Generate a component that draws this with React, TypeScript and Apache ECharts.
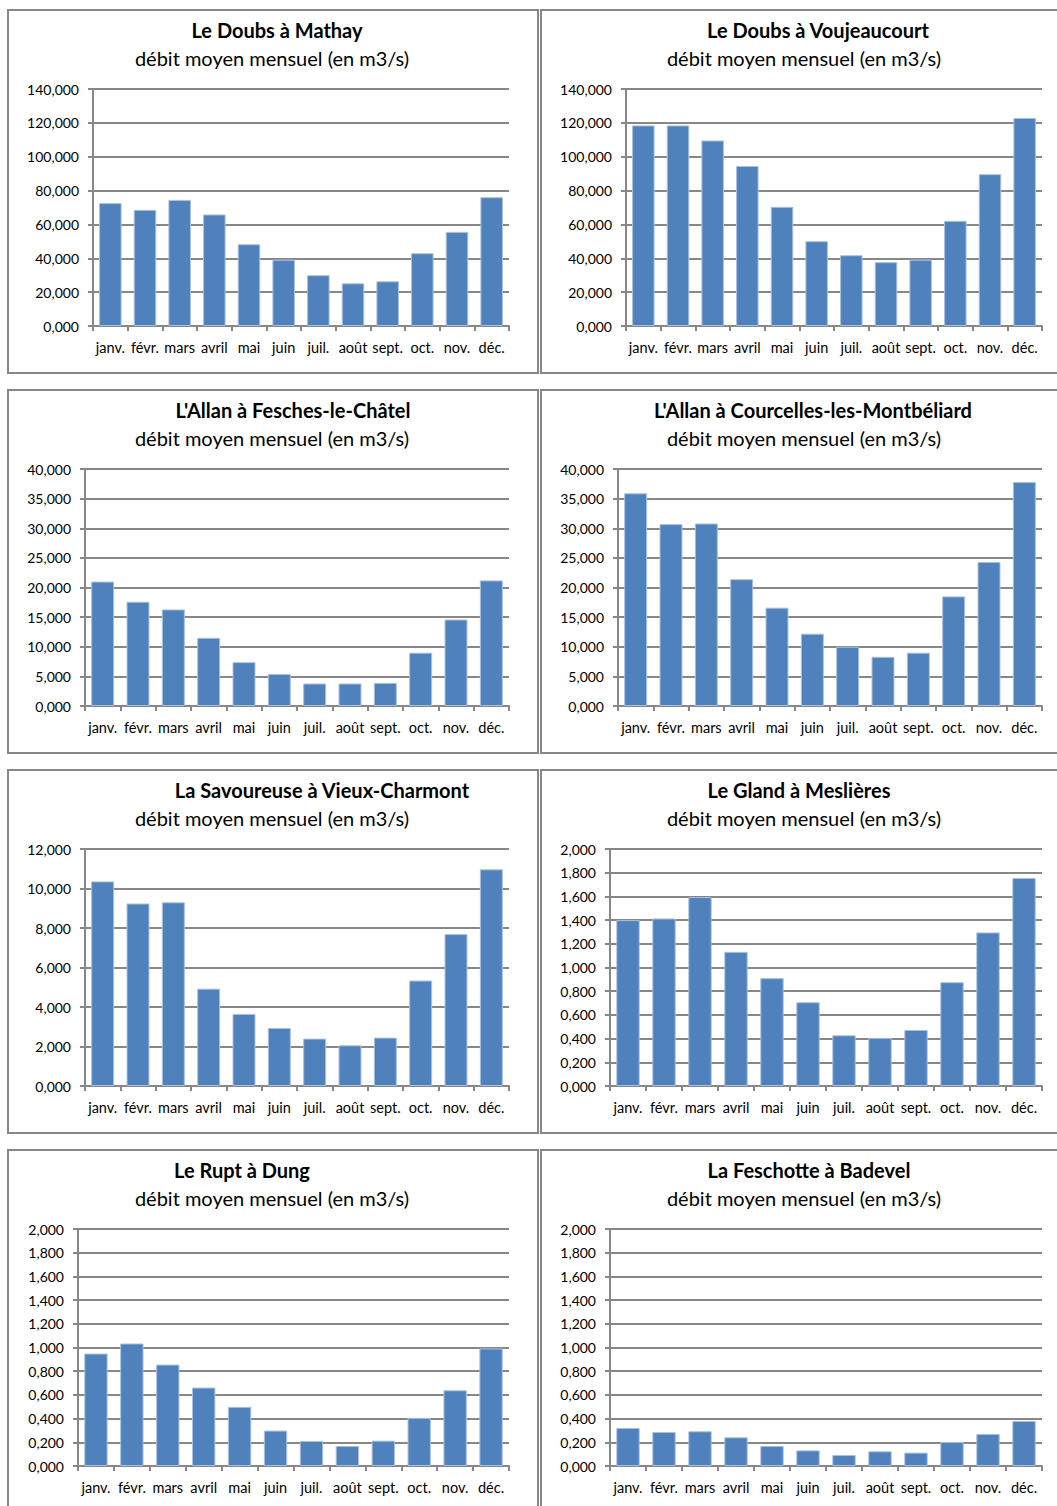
import React, { useEffect, useRef } from "react";
import * as echarts from "echarts";

const months = ["janv.", "févr.", "mars", "avril", "mai", "juin", "juil.", "août", "sept.", "oct.", "nov.", "déc."];

const doubsMathay = [72.6, 68.6, 74.5, 65.9, 48.3, 39.2, 30.0, 25.2, 26.4, 43.0, 55.6, 76.1];
const doubsVoujeaucourt = [118.5, 118.5, 109.6, 94.5, 70.4, 50.1, 41.8, 37.7, 39.2, 62.1, 89.7, 122.9];
const allanFesches = [21.0, 17.6, 16.3, 11.5, 7.4, 5.4, 3.8, 3.8, 3.9, 9.0, 14.6, 21.2];
const allanCourcelles = [35.9, 30.7, 30.8, 21.4, 16.6, 12.2, 10.0, 8.3, 9.0, 18.5, 24.3, 37.8];
const savoureuse = [10.36, 9.24, 9.3, 4.93, 3.65, 2.94, 2.4, 2.06, 2.45, 5.34, 7.69, 10.97];
const glandMeslieres = [1.4, 1.414, 1.594, 1.132, 0.91, 0.707, 0.428, 0.406, 0.473, 0.876, 1.296, 1.755];
const ruptDung = [0.949, 1.034, 0.856, 0.662, 0.499, 0.299, 0.211, 0.169, 0.214, 0.406, 0.639, 0.992];
const feschotte = [0.321, 0.287, 0.293, 0.242, 0.169, 0.132, 0.093, 0.124, 0.113, 0.203, 0.27, 0.38];

const subtitle = "débit moyen mensuel (en m3/s)";

const panels = [
  { title: "Le Doubs à Mathay", data: doubsMathay, max: 140, interval: 20, col: 0, row: 0, axisOff: 85, titleX: 277 },
  { title: "Le Doubs à Voujeaucourt", data: doubsVoujeaucourt, max: 140, interval: 20, col: 1, row: 0, axisOff: 85, titleX: 818 },
  { title: "L'Allan à Fesches-le-Châtel", data: allanFesches, max: 40, interval: 5, col: 0, row: 1, axisOff: 77, titleX: 293 },
  { title: "L'Allan à Courcelles-les-Montbéliard", data: allanCourcelles, max: 40, interval: 5, col: 1, row: 1, axisOff: 77, titleX: 813 },
  { title: "La Savoureuse à Vieux-Charmont", data: savoureuse, max: 12, interval: 2, col: 0, row: 2, axisOff: 77, titleX: 322 },
  { title: "Le Gland à Meslières", data: glandMeslieres, max: 2, interval: 0.2, col: 1, row: 2, axisOff: 69, titleX: 799 },
  { title: "Le Rupt à Dung", data: ruptDung, max: 2, interval: 0.2, col: 0, row: 3, axisOff: 70, titleX: 242 },
  { title: "La Feschotte à Badevel", data: feschotte, max: 2, interval: 0.2, col: 1, row: 3, axisOff: 69, titleX: 809 },
];

const FONT = "Lato, 'Open Sans', sans-serif";
const GRAY = "#878787";

export default function App() {
  const ref = useRef<HTMLDivElement>(null);
  useEffect(() => {
    if (!ref.current) return;
    const chart = echarts.init(ref.current, null, { renderer: "svg" });
    const grids: any[] = [];
    const xAxes: any[] = [];
    const yAxes: any[] = [];
    const series: any[] = [];
    const graphics: any[] = [];
    panels.forEach((p, i) => {
      const boxX = p.col === 0 ? 8 : 541;
      const boxY = 10 + 380 * p.row;
      const axisX = boxX + p.axisOff;
      const rightX = boxX + 501;
      graphics.push({
        type: "rect",
        shape: { x: boxX, y: boxY, width: 530, height: 363 },
        style: { fill: "none", stroke: GRAY, lineWidth: 2 },
        silent: true,
      });
      graphics.push({
        type: "text",
        x: p.titleX,
        y: boxY + 20,
        style: {
          text: p.title,
          fill: "#000",
          fontFamily: FONT,
          fontSize: 20,
          fontWeight: "bold",
          align: "center",
          verticalAlign: "middle",
          textAlign: "center",
          textVerticalAlign: "middle",
        },
      });
      graphics.push({
        type: "text",
        x: p.col === 0 ? 272 : 804,
        y: boxY + 48,
        style: {
          text: subtitle,
          fill: "#000",
          fontFamily: FONT,
          fontSize: 20,
          align: "center",
          verticalAlign: "middle",
          textAlign: "center",
          textVerticalAlign: "middle",
        },
      });
      grids.push({ left: axisX, top: boxY + 79, width: rightX - axisX, height: 237, containLabel: false });
      xAxes.push({
        type: "category",
        gridIndex: i,
        data: months,
        boundaryGap: true,
        axisLine: { show: true, lineStyle: { color: GRAY, width: 2 } },
        axisTick: { show: true, length: 5, lineStyle: { color: GRAY, width: 2 } },
        axisLabel: { interval: 0, color: "#000", fontFamily: FONT, fontSize: 14.5, margin: 14 },
        splitLine: { show: false },
      });
      yAxes.push({
        type: "value",
        gridIndex: i,
        min: 0,
        max: p.max,
        interval: p.interval,
        axisLine: { show: true, lineStyle: { color: GRAY, width: 2 } },
        axisTick: { show: true, length: 5, lineStyle: { color: GRAY, width: 2 } },
        axisLabel: {
          color: "#000",
          fontFamily: FONT,
          fontSize: 14,
          margin: 14,
          formatter: (v: number) => v.toFixed(3).replace(".", ","),
        },
        splitLine: { show: true, lineStyle: { color: GRAY, width: 2 } },
      });
      series.push({
        type: "bar",
        xAxisIndex: i,
        yAxisIndex: i,
        data: p.data,
        barCategoryGap: "35%",
        itemStyle: { color: "#4f81bd", borderColor: "#a9c1df", borderWidth: 1 },
        silent: true,
      });
    });
    chart.setOption({
      animation: false,
      backgroundColor: "#fff",
      grid: grids,
      xAxis: xAxes,
      yAxis: yAxes,
      series,
      graphic: graphics,
    });
    return () => chart.dispose();
  }, []);
  return <div ref={ref} style={{ position: "fixed", left: 0, top: 0, width: 1057, height: 1506 }} />;
}
